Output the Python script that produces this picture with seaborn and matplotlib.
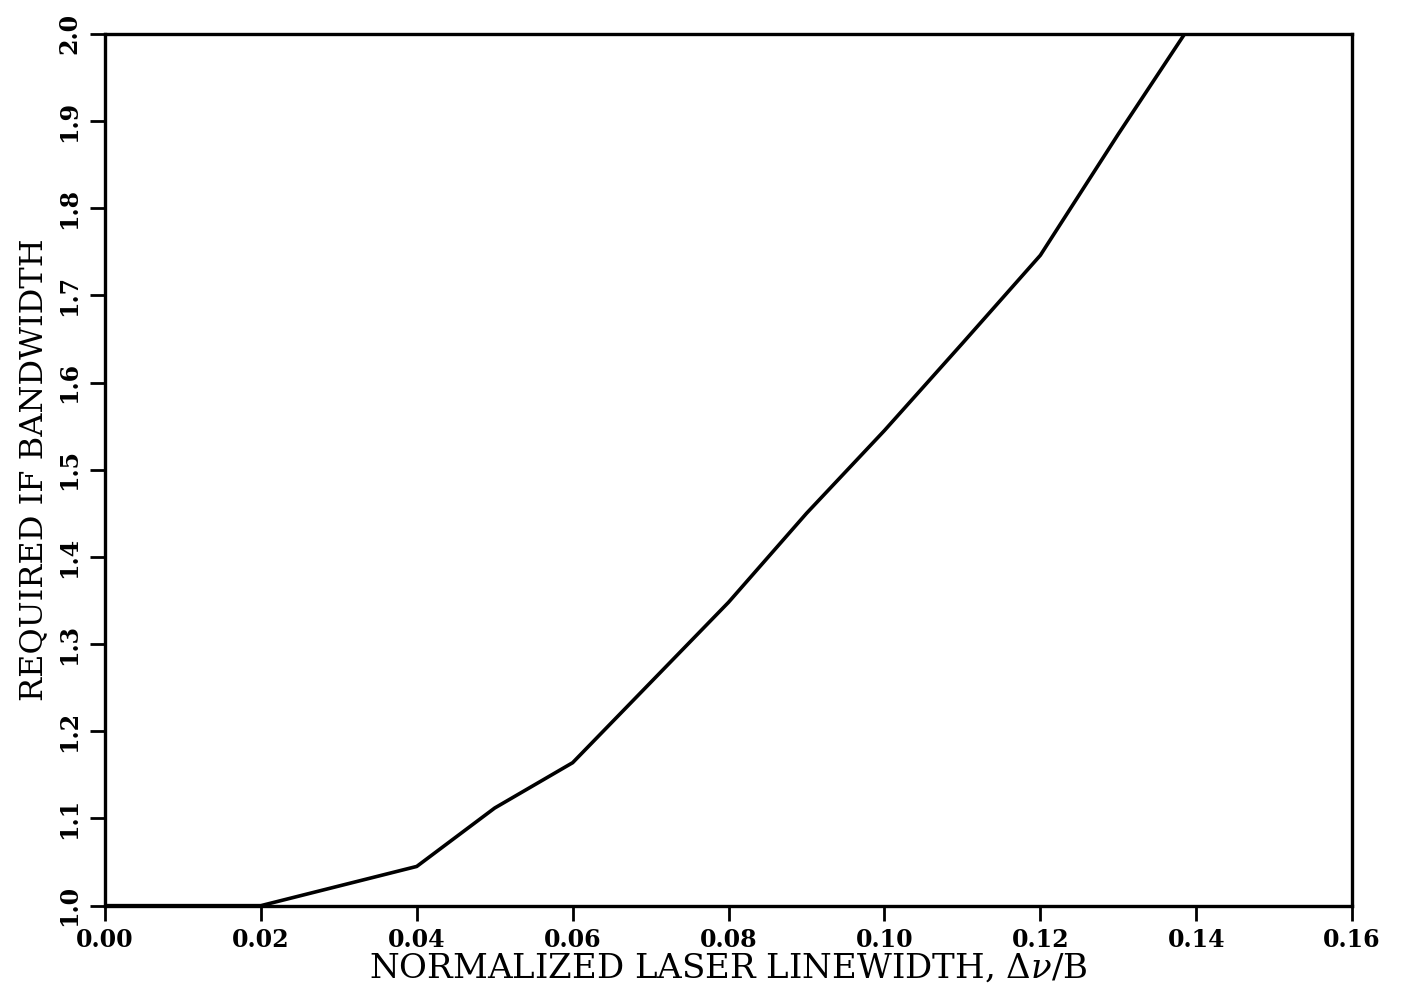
import numpy as np
import pandas as pd
import seaborn as sns
import matplotlib
matplotlib.use("Agg")
import matplotlib.pyplot as plt

# values
linewidth = [0.00, 0.02, 0.04, 0.05, 0.06, 0.08, 0.09, 0.10, 0.11, 0.12, 0.13, 0.14]
if_bandwidth = [1.000, 1.000, 1.045, 1.112, 1.164, 1.348, 1.450, 1.545, 1.645, 1.746, 1.885, 2.020]

x_ticks = [0.00, 0.02, 0.04, 0.06, 0.08, 0.10, 0.12, 0.14, 0.16]
y_ticks = [1.0, 1.1, 1.2, 1.3, 1.4, 1.5, 1.6, 1.7, 1.8, 1.9, 2.0]

df = pd.DataFrame({"x": linewidth, "y": if_bandwidth})

sns.set_theme(style="ticks")
plt.rcParams["font.family"] = ["DejaVu Serif"]
plt.rcParams["mathtext.fontset"] = "dejavuserif"

fig = plt.figure(figsize=(14.07, 9.96), dpi=100)
ax = fig.add_axes([0.0746, 0.0907, 0.8864, 0.8753])

sns.lineplot(data=df, x="x", y="y", ax=ax, color="black", linewidth=2.6)

ax.set_xlim(0.0, 0.16)
ax.set_ylim(1.0, 2.0)
ax.set_xticks(x_ticks)
ax.set_xticklabels([f"{v:.2f}" for v in x_ticks], fontsize=17, fontweight="bold")
ax.set_yticks(y_ticks)
ax.set_yticklabels([f"{v:.1f}" for v in y_ticks], fontsize=17, fontweight="bold",
                   rotation=90, va="center")

for side in ax.spines.values():
    side.set_linewidth(2.4)
    side.set_color("black")

ax.tick_params(axis="both", direction="out", length=11, width=2, color="black",
               labelcolor="black")
ax.tick_params(axis="x", pad=5)
ax.tick_params(axis="y", pad=6)

ax.set_xlabel(r"NORMALIZED LASER LINEWIDTH, $\Delta\nu$/B", fontsize=24.5, labelpad=0,
              color="black")
ax.set_ylabel("REQUIRED IF BANDWIDTH", fontsize=23, labelpad=6, color="black")

fig.savefig("out.png", dpi=100, facecolor="white")
